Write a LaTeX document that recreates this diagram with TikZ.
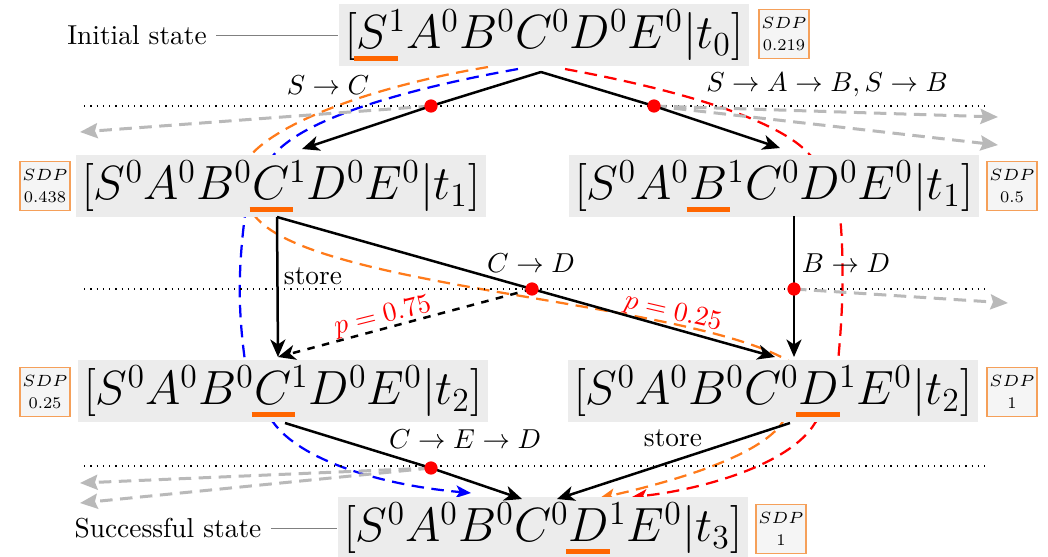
\RequirePackage{fix-cm}
\documentclass[tikz,border=0pt,11pt]{standalone}
\usepackage{amsmath}
\usepackage{amssymb}
\usetikzlibrary{arrows.meta,backgrounds}

\definecolor{barorange}{HTML}{FF6600}
\definecolor{pathorange}{HTML}{FF7A1A}
\definecolor{sdporange}{HTML}{F5A05A}

% orange mark under the active symbol
\newcommand{\hlmark}[1]{\rlap{\kern-1pt\smash{\textcolor{barorange}{\rule[-5pt]{17.5pt}{2pt}}}}#1}

\tikzset{
  state/.style={fill=gray!15, minimum width=164pt, minimum height=24pt, inner sep=2pt,
    font=\fontsize{19.2pt}{22pt}\selectfont},
  sdp/.style={draw=sdporange, fill=gray!8, line width=0.6pt, font=\fontsize{6.5pt}{8.5pt}\selectfont,
    align=center, minimum width=18.4pt, minimum height=19.6pt, inner sep=1pt},
  flow/.style={line width=1pt, -{Stealth[length=7pt,width=6pt,inset=2pt]}},
  drop/.style={gray!55, line width=1.2pt, dash pattern=on 5pt off 3pt, -{Stealth[length=7pt,width=6pt,inset=1pt]}},
  trace/.style={line width=0.9pt, dash pattern=on 5pt off 3pt, -{Stealth[length=6pt,width=5pt,inset=1.5pt]}},
  level/.style={dotted, line width=0.5pt},
  junction/.style={circle, fill=red, inner sep=0pt, minimum size=5.3pt},
}

\begin{document}
\begin{tikzpicture}[x=0.4pt,y=-0.4pt]
  \useasboundingbox (0,0) rectangle (1048,556);

  % states
  \node[state] (s0) at (544,35) {$[\hlmark{S}^1A^0B^0C^0D^0E^0|t_0]$};
  \node[state] (s1) at (281,186) {$[S^0A^0B^0\hlmark{C}^1D^0E^0|t_1]$};
  \node[state] (s2) at (774,186) {$[S^0A^0\hlmark{B}^1C^0D^0E^0|t_1]$};
  \node[state] (s3) at (283,391) {$[S^0A^0B^0\hlmark{C}^1D^0E^0|t_2]$};
  \node[state] (s4) at (773,391) {$[S^0A^0B^0C^0\hlmark{D}^1E^0|t_2]$};
  \node[state] (s5) at (543,528) {$[S^0A^0B^0C^0\hlmark{D}^1E^0|t_3]$};

  \node[sdp] (p0) at (784,34) {$SDP$\\0.219};
  \node[sdp] (p1) at (45,186) {$SDP$\\0.438};
  \node[sdp] (p2) at (1012,186) {$SDP$\\0.5};
  \node[sdp] (p3) at (45,392) {$SDP$\\0.25};
  \node[sdp] (p4) at (1012,392) {$SDP$\\1};
  \node[sdp] (p5) at (781,529) {$SDP$\\1};

  \node (init) at (137,35) {Initial state};
  \node (succ) at (168,528) {Successful state};
  \draw[gray] (init) -- (s0);
  \draw[gray] (succ) -- (s5);

  % end points
  \coordinate (top) at (541,72);
  \coordinate (s1in) at (302,149);
  \coordinate (s2in) at (780,148);
  \coordinate (s1out) at (277,217);
  \coordinate (s3in) at (278,357);
  \coordinate (s4in) at (775,357);
  \coordinate (s2out) at (794,216);
  \coordinate (s4top) at (794,357);
  \coordinate (s3out) at (285,423);
  \coordinate (s5inL) at (522,499);
  \coordinate (s4out) at (790,423);
  \coordinate (s5inR) at (557,499);

  \coordinate (j1) at (431,106);
  \coordinate (j2) at (654,106);
  \coordinate (j3) at (532,289);
  \coordinate (j4) at (794,289);
  \coordinate (j5) at (431,468);

  \coordinate (g1) at (80,132);
  \coordinate (g2) at (998,117);
  \coordinate (g3) at (998,145);
  \coordinate (g4) at (1008,303);
  \coordinate (g5) at (80,483);
  \coordinate (g6) at (80,503);

  % time levels
  \draw[level] (84,106) -- (988,106);
  \draw[level] (84,289) -- (988,289);
  \draw[level] (84,466) -- (988,466);

  % lost transitions
  \draw[drop] (j1) -- (g1);
  \draw[drop] (j2) -- (g2);
  \draw[drop] (j2) -- (g3);
  \draw[drop] (j4) -- (g4);
  \draw[drop] (j5) -- (g5);
  \draw[drop] (j5) -- (g6);

  % transitions
  \draw[flow] (top) -- (j1) -- (s1in);
  \draw[flow] (top) -- (j2) -- (s2in);
  \draw[flow] (s1out) -- (s3in);
  \draw[flow] (s1out) -- (j3) -- (s4in);
  \draw[flow,dashed] (j3) -- (s3in);
  \draw[flow] (s2out) -- (j4) -- (s4top);
  \draw[flow] (s3out) -- (j5) -- (s5inL);
  \draw[flow] (s4out) -- (s5inR);

  \foreach \j in {j1,j2,j3,j4,j5}
    \node[junction] (\j dot) at (\j) {};

  % labels
  \node (l1) at (328,85) {$S \to C$};
  \node (l2) at (827,85) {$S \to A \to B, S \to B$};
  \node (l3) at (313,276) {store};
  \node (l4) at (531,263) {$C \to D$};
  \node (l5) at (846,263) {$B \to D$};
  \node[red, rotate=14] (l6) at (383,317) {$p = 0.75$};
  \node[red, rotate=-13] (l7) at (673,313) {$p = 0.25$};
  \node (l8) at (465,439) {$C \to E \to D$};
  \node (l9) at (673,438) {store};

  % traced runs
  \begin{scope}[on background layer]
    \draw[trace, blue] (518,69) .. controls (400,90) and (300,120) .. (272,157)
      .. controls (255,180) and (245,200) .. (245,215)
      .. controls (238,270) and (238,310) .. (245,361)
      .. controls (250,390) and (262,410) .. (273,422)
      .. controls (300,460) and (380,485) .. (471,493);
    \draw[trace, pathorange] (488,67) .. controls (380,85) and (280,120) .. (249,157)
      .. controls (238,180) and (238,200) .. (252,212)
      .. controls (300,290) and (700,300) .. (795,365)
      .. controls (800,390) and (790,410) .. (782,423)
      .. controls (760,455) and (680,480) .. (600,498);
    \draw[trace, red] (565,69) .. controls (680,90) and (780,120) .. (810,155)
      .. controls (830,175) and (840,195) .. (840,215)
      .. controls (845,270) and (842,320) .. (838,362)
      .. controls (836,390) and (825,410) .. (815,423)
      .. controls (790,465) and (700,490) .. (632,497);
  \end{scope}
\end{tikzpicture}
\end{document}
